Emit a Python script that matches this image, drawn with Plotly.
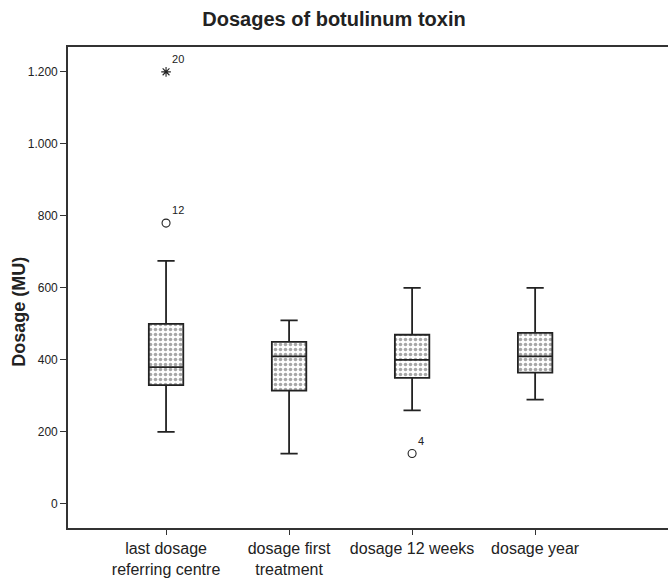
import plotly.graph_objects as go

categories = ["last dosage<br>referring centre", "dosage first<br>treatment", "dosage 12 weeks", "dosage year"]
lower_whisker = [200, 140, 260, 290]
q1_vals = [330, 315, 350, 365]
median_vals = [380, 410, 400, 410]
q3_vals = [500, 450, 470, 475]
upper_whisker = [675, 510, 600, 600]

outlier_cat = [0, 0, 2]
outlier_vals = [1200, 780, 140]
outlier_ids = ["20", "12", "4"]
outlier_kind = ["extreme", "outlier", "outlier"]

pos = list(range(len(categories)))
BOXW = 0.28

fig = go.Figure()

fig.add_trace(go.Bar(
    x=pos, base=q1_vals, y=[b - a for a, b in zip(q1_vals, q3_vals)],
    width=BOXW,
    marker=dict(color="white", line=dict(width=0),
                pattern=dict(shape=".", fgcolor="#505050", bgcolor="white", size=5, solidity=0.4)),
    showlegend=False, hoverinfo="skip",
))

fig.add_trace(go.Box(
    x=pos, q1=q1_vals, median=median_vals, q3=q3_vals,
    lowerfence=lower_whisker, upperfence=upper_whisker,
    width=BOXW, whiskerwidth=0.5,
    fillcolor="rgba(0,0,0,0)",
    line=dict(color="#222222", width=1.8),
    boxpoints=False, showlegend=False,
))

fig.add_trace(go.Scatter(
    x=outlier_cat, y=outlier_vals, mode="markers+text",
    text=outlier_ids, textposition="top right",
    textfont=dict(family="Liberation Sans, Arial, sans-serif", size=11, color="#222"),
    marker=dict(symbol=["asterisk-open" if k == "extreme" else "circle-open" for k in outlier_kind],
                size=8, color="#222", line=dict(width=1.1, color="#222")),
    showlegend=False, hoverinfo="skip", cliponaxis=False,
))

fig.add_annotation(
    text="<b>Dosage (MU)</b>", textangle=-90,
    xref="paper", yref="paper", x=-0.083, y=0.45, xanchor="center", yanchor="middle",
    showarrow=False, font=dict(size=18, color="#222"),
)

fig.update_layout(
    width=668, height=579,
    margin=dict(l=68, r=0, t=47, b=51),
    paper_bgcolor="white", plot_bgcolor="white",
    separators=",.",
    font=dict(family="Liberation Sans, Arial, sans-serif", color="#222"),
    title=dict(text="<b>Dosages of botulinum toxin</b>", x=0.5, xanchor="center",
               y=0.968, yanchor="middle", font=dict(size=20, color="#222")),
    bargap=0,
    xaxis=dict(
        range=[-0.797, 4.08], tickmode="array", tickvals=pos, ticktext=categories,
        ticks="outside", ticklen=5, tickcolor="#333", tickwidth=1.3,
        showline=True, linecolor="#333", linewidth=1.6, mirror=True,
        showgrid=False, zeroline=False,
        tickfont=dict(size=16, color="#222"),
    ),
    yaxis=dict(
        range=[-66.7, 1269], tickmode="array", tickvals=[0, 200, 400, 600, 800, 1000, 1200],
        tickformat=",d",
        ticks="outside", ticklen=6, tickcolor="#333", tickwidth=1.3,
        showline=True, linecolor="#333", linewidth=1.6,
        showgrid=False, zeroline=False,
        tickfont=dict(size=12, color="#222"),
    ),
)

fig.write_html("out.html")
